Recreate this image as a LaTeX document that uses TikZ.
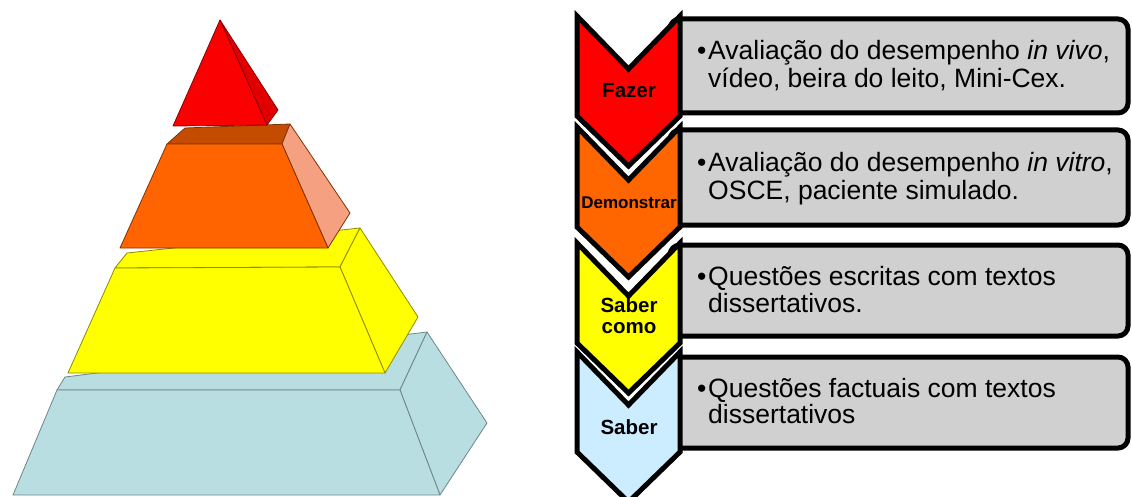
\documentclass[tikz,border=0pt]{standalone}
\usepackage{fontspec}
\setmainfont{Liberation Sans}
\definecolor{boxgray}{RGB}{208,208,208}
\definecolor{chred}{RGB}{255,0,0}
\definecolor{chorange}{RGB}{255,102,0}
\definecolor{chyellow}{RGB}{255,255,0}
\definecolor{chblue}{RGB}{204,236,255}
\definecolor{pyrred}{RGB}{250,0,0}
\definecolor{pyrredside}{RGB}{225,0,0}
\definecolor{pyrorange}{RGB}{255,100,0}
\definecolor{pyrorangetop}{RGB}{196,76,0}
\definecolor{pyrorangeside}{RGB}{246,160,130}
\definecolor{pyryellow}{RGB}{255,255,0}
\definecolor{pyrblue}{RGB}{184,222,226}
\tikzset{
  chevstyle/.style={draw=black, line width=5pt, line join=miter},
  boxstyle/.style={draw=black, fill=boxgray, line width=5pt, rounded corners=10pt},
  chevlabel/.style={font=\bfseries\fontsize{20.5}{21}\selectfont, align=center, inner sep=0pt, anchor=base},
  boxtext/.style={font=\fontsize{26.5}{28}\selectfont, inner sep=0pt, anchor=base west},
  face/.style={line width=0.8pt, line join=round},
}
\newcommand{\mychev}[2]{%
  \filldraw[chevstyle, fill=#2] (577,#1) -- (628.5,{#1+53}) -- (680,#1) -- (680,{#1+100}) -- (628.5,{#1+150}) -- (577,{#1+100}) -- cycle;}
\begin{document}
\begin{tikzpicture}[x=1pt,y=-1pt]
\useasboundingbox (0,0) rectangle (1132,497);
\begin{scope}
\clip (0,0) rectangle (1132,497);
% ---------------- Pyramid ----------------
% blue tier
\filldraw[face, fill=pyrblue, draw=pyrblue!60!black] (57,390) -- (400,390) -- (427,332) -- (65,377) -- cycle;
\filldraw[face, fill=pyrblue, draw=pyrblue!60!black] (400,390) -- (427,332) -- (487,423) -- (440,495) -- cycle;
\filldraw[face, fill=pyrblue, draw=pyrblue!60!black] (57,390) -- (400,390) -- (440,495) -- (13,495) -- cycle;
% yellow tier
\filldraw[face, fill=pyryellow, draw=pyryellow!55!black] (115,268) -- (340,267) -- (360,228) -- (127,253) -- cycle;
\filldraw[face, fill=pyryellow, draw=pyryellow!55!black] (340,267) -- (360,228) -- (418,317) -- (385,373) -- cycle;
\filldraw[face, fill=pyryellow, draw=pyryellow!55!black] (115,268) -- (340,267) -- (385,373) -- (68,373) -- cycle;
% orange tier
\filldraw[face, fill=pyrorangetop, draw=pyrorange!50!black] (167,144) -- (282,144) -- (290,124) -- (185,128) -- cycle;
\filldraw[face, fill=pyrorangeside, draw=pyrorange!50!black] (282,144) -- (290,124) -- (350,213) -- (328,248) -- cycle;
\filldraw[face, fill=pyrorange, draw=pyrorange!50!black] (167,144) -- (282,144) -- (328,248) -- (120,248) -- cycle;
% red tier
\filldraw[face, fill=pyrredside, draw=pyrred!55!black] (220,20) -- (278,110) -- (267,125) -- cycle;
\filldraw[face, fill=pyrred, draw=pyrred!55!black] (220,20) -- (267,125) -- (173,126) -- cycle;
% ---------------- Boxes ----------------
\draw[boxstyle] (670,19) rectangle (1128,113);
\draw[boxstyle] (670,130) rectangle (1128,225);
\draw[boxstyle] (670,245) rectangle (1128,336);
\draw[boxstyle] (670,357) rectangle (1128,448);
% ---------------- Chevrons ----------------
\mychev{16}{chred}
\mychev{127}{chorange}
\mychev{243}{chyellow}
\mychev{352}{chblue}
\end{scope}
% labels
\node[chevlabel] (lfazer) at (629,98) {Fazer};
\node[chevlabel, font=\bfseries\fontsize{17}{18}\selectfont] (ldem) at (629,209) {Demonstrar};
\node[chevlabel] (lsabercomo) at (629,312) {Saber};
\node[chevlabel] (lcomo) at (629,333) {como};
\node[chevlabel] (lsaber) at (629,434) {Saber};
% box texts
\node[boxtext] (b1) at (697,60) {•};
\node[boxtext] (t1a) at (708,60) {Avaliação do desempenho \textit{in vivo},};
\node[boxtext] (t1b) at (708,88) {vídeo, beira do leito, Mini-Cex.};
\node[boxtext] (b2) at (697,172) {•};
\node[boxtext] (t2a) at (708,172) {Avaliação do desempenho \textit{in vitro},};
\node[boxtext] (t2b) at (708,200) {OSCE, paciente simulado.};
\node[boxtext] (b3) at (697,285) {•};
\node[boxtext] (t3a) at (708,285) {Questões escritas com textos};
\node[boxtext] (t3b) at (708,312) {dissertativos.};
\node[boxtext] (b4) at (697,397) {•};
\node[boxtext] (t4a) at (708,397) {Questões factuais com textos};
\node[boxtext] (t4b) at (708,423) {dissertativos};
\end{tikzpicture}
\end{document}
